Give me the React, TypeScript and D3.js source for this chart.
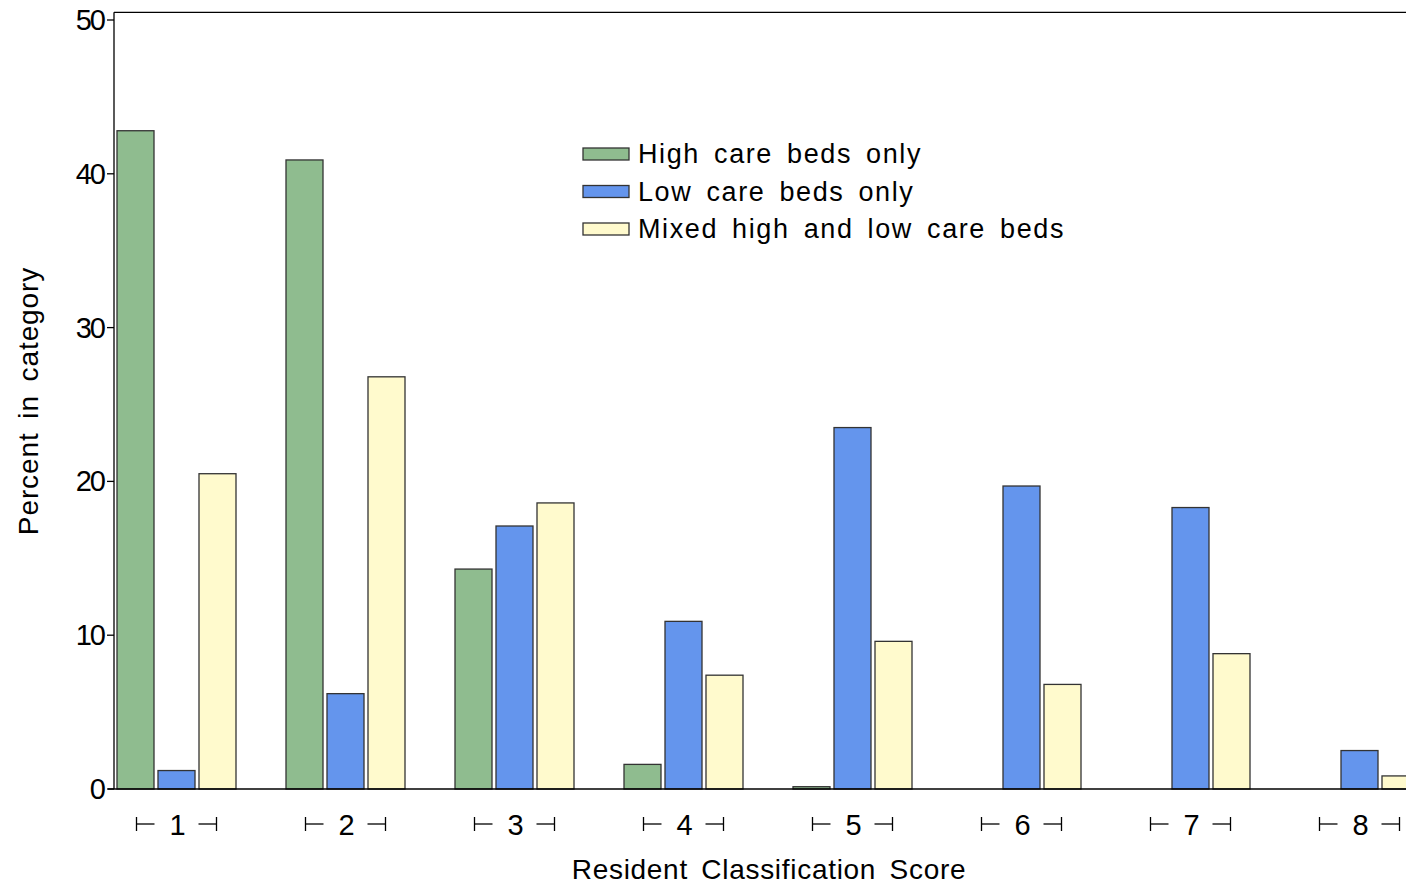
import React from "react";
import * as d3 from "d3";

const categories = ["1", "2", "3", "4", "5", "6", "7", "8"];
const seriesNames = ["High care beds only", "Low care beds only", "Mixed high and low care beds"];
const highCare = [42.8, 40.9, 14.3, 1.6, 0.15, 0, 0, 0];
const lowCare = [1.2, 6.2, 17.1, 10.9, 23.5, 19.7, 18.3, 2.5];
const mixed = [20.5, 26.8, 18.6, 7.4, 9.6, 6.8, 8.8, 0.85];
const yTicks = [0, 10, 20, 30, 40, 50];
const colors = ["#8FBC8F", "#6495ED", "#FFFACD"];

const W = 1406;
const H = 885;
const FONT = "'Liberation Sans', Arial, sans-serif";

export default function App() {
  const series = [highCare, lowCare, mixed];
  const y = d3.scaleLinear().domain([0, 50]).range([789, 20]);
  const yTop = y(50.5);
  const x0 = d3.scaleBand<string>().domain(categories).range([117, 1419]).paddingInner(50 / 169).paddingOuter(0);
  const x1 = d3.scaleBand<number>().domain([0, 1, 2]).range([0, x0.bandwidth()]).paddingInner(4 / 41).paddingOuter(0);
  const axisX = 114;

  return (
    <>
      <style>{`body{margin:0}`}</style>
      <svg width={W} height={H} style={{ display: "block" }} fontFamily={FONT}>
        <rect x={0} y={0} width={W} height={H} fill="#fff" />
        {categories.map((c, i) =>
          series.map((s, j) => {
            const v = s[i];
            if (!(v > 0)) return null;
            const bx = (x0(c) as number) + (x1(j) as number);
            return (
              <rect
                key={c + "-" + j}
                x={bx}
                y={y(v)}
                width={x1.bandwidth()}
                height={y(0) - y(v)}
                fill={colors[j]}
                stroke="#333"
                strokeWidth={1.3}
              />
            );
          })
        )}
        {/* axes frame */}
        <line x1={axisX} y1={yTop} x2={W} y2={yTop} stroke="#000" strokeWidth={1.3} />
        <line x1={axisX} y1={yTop} x2={axisX} y2={y(0)} stroke="#000" strokeWidth={1.3} />
        <line x1={108} y1={y(0)} x2={W} y2={y(0)} stroke="#000" strokeWidth={1.3} />
        {yTicks.map((t) => (
          <g key={t}>
            <line x1={107} x2={axisX} y1={y(t)} y2={y(t)} stroke="#000" strokeWidth={1.3} />
            <text x={104} y={y(t) + 10} textAnchor="end" fontSize={29} letterSpacing={-2}>
              {t}
            </text>
          </g>
        ))}
        {/* x group labels with brackets */}
        {categories.map((c) => {
          const cx = (x0(c) as number) + x0.bandwidth() / 2;
          const lx = cx - 40;
          const rx = cx + 40;
          return (
            <g key={c} stroke="#000" strokeWidth={1.3}>
              <line x1={lx} x2={lx} y1={817} y2={831} />
              <line x1={lx} x2={lx + 18} y1={824} y2={824} />
              <line x1={rx} x2={rx} y1={817} y2={831} />
              <line x1={rx - 18} x2={rx} y1={824} y2={824} />
              <text x={cx + 1} y={835} textAnchor="middle" fontSize={29} stroke="none" fill="#000">
                {c}
              </text>
            </g>
          );
        })}
        <text x={769} y={879} textAnchor="middle" fontSize={28} wordSpacing={5} letterSpacing={0.7}>
          Resident Classification Score
        </text>
        <text transform={`translate(38,401) rotate(-90)`} textAnchor="middle" fontSize={28} wordSpacing={5} letterSpacing={0.9}>
          Percent in category
        </text>
        {/* legend */}
        {seriesNames.map((n, j) => (
          <g key={n} transform={`translate(583,${148 + j * 37.5})`}>
            <rect x={0} y={0} width={46} height={12} fill={colors[j]} stroke="#333" strokeWidth={1.3} />
            <text x={55} y={15} fontSize={27} wordSpacing={5} letterSpacing={1.6}>
              {n}
            </text>
          </g>
        ))}
      </svg>
    </>
  );
}
